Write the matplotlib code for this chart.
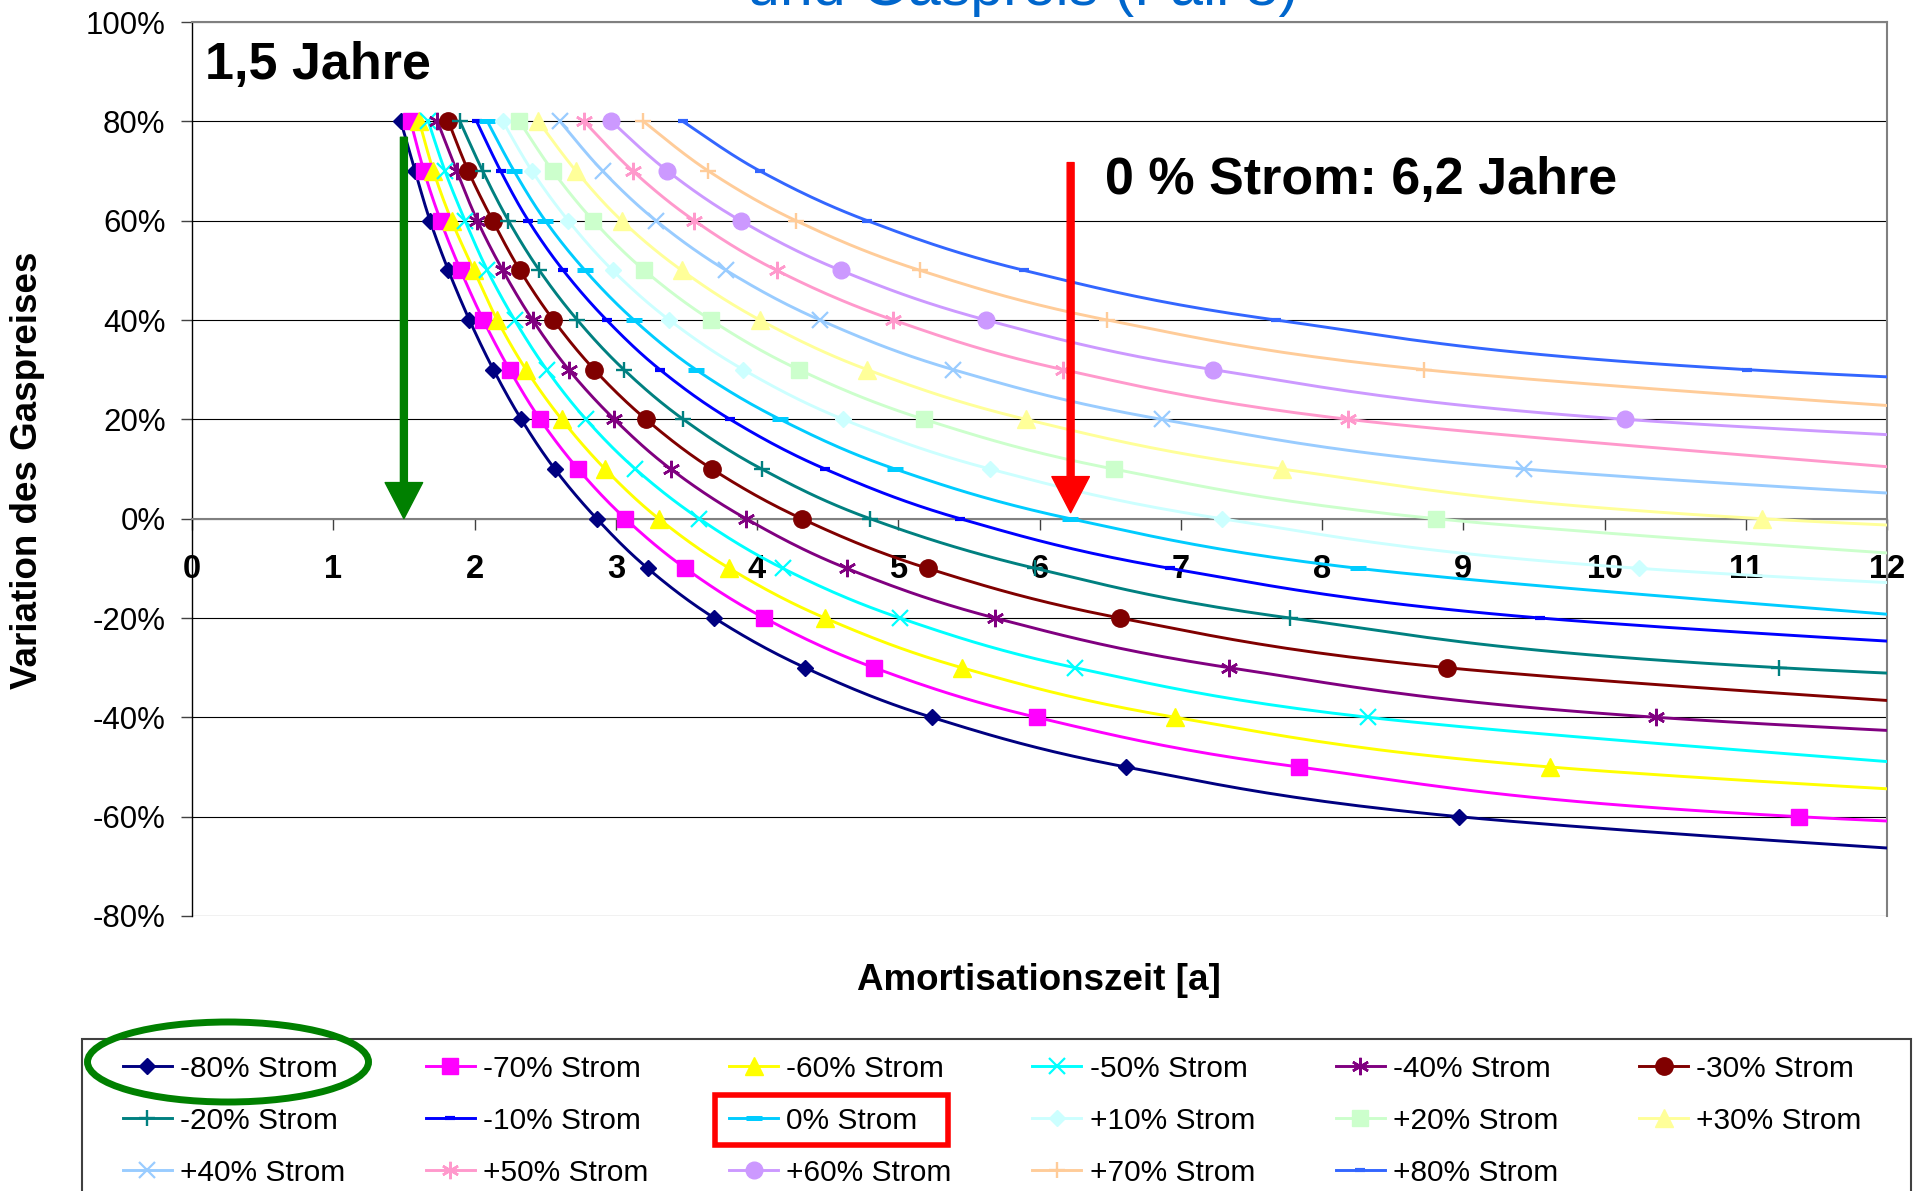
import numpy as np
import matplotlib
matplotlib.use("Agg")
import matplotlib.pyplot as plt
from matplotlib.lines import Line2D
from matplotlib.patches import Rectangle, Ellipse

plt.rcParams['font.family'] = ['Liberation Sans', 'DejaVu Sans']

# gas price variation (%) for the marker rows, top to bottom
gas_levels = [80, 70, 60, 50, 40, 30, 20, 10, 0, -10, -20, -30, -40, -50, -60, -70]

# electricity price variation of each series (%)
strom = [-80, -70, -60, -50, -40, -30, -20, -10, 0, 10, 20, 30, 40, 50, 60, 70, 80]

# amortisation time [a] read at each gas level; last value of each list is
# an estimate just beyond the right edge (x > 12)
t_m80 = [1.478, 1.579, 1.685, 1.815, 1.964, 2.134, 2.331, 2.568, 2.865, 3.226, 3.698, 4.340, 5.237, 6.612, 8.968, 14.0]
t_m70 = [1.548, 1.642, 1.760, 1.902, 2.062, 2.248, 2.464, 2.733, 3.068, 3.493, 4.052, 4.828, 5.980, 7.837, 11.373, 20.8]
t_m60 = [1.609, 1.709, 1.838, 1.996, 2.161, 2.365, 2.617, 2.924, 3.304, 3.804, 4.481, 5.449, 6.962, 9.614, 15.6]
t_m50 = [1.673, 1.791, 1.933, 2.091, 2.284, 2.511, 2.789, 3.139, 3.591, 4.182, 5.012, 6.251, 8.328, 12.48]
t_m40 = [1.737, 1.874, 2.020, 2.200, 2.411, 2.667, 2.990, 3.389, 3.922, 4.635, 5.685, 7.344, 10.367, 17.7]
t_m30 = [1.815, 1.956, 2.129, 2.322, 2.558, 2.848, 3.214, 3.681, 4.316, 5.208, 6.570, 8.883, 13.8]
t_m20 = [1.897, 2.058, 2.240, 2.459, 2.728, 3.058, 3.478, 4.033, 4.800, 5.970, 7.773, 11.235, 20.4]
t_m10 = [2.015, 2.185, 2.381, 2.628, 2.935, 3.313, 3.809, 4.482, 5.437, 6.924, 9.543, 15.3]
t_0 = [2.091, 2.280, 2.501, 2.782, 3.129, 3.568, 4.163, 4.977, 6.216, 8.257, 12.33]
t_p10 = [2.200, 2.407, 2.664, 2.978, 3.379, 3.903, 4.611, 5.650, 7.290, 10.245, 17.4]
t_p20 = [2.318, 2.554, 2.841, 3.202, 3.673, 4.297, 5.182, 6.525, 8.804, 13.6]
t_p30 = [2.452, 2.719, 3.042, 3.467, 4.021, 4.781, 5.904, 7.715, 11.113, 20.0]
t_p40 = [2.605, 2.907, 3.285, 3.781, 4.446, 5.390, 6.865, 9.430, 15.2]
t_p50 = [2.775, 3.120, 3.557, 4.139, 4.965, 6.169, 8.186, 12.2]
t_p60 = [2.969, 3.366, 3.884, 4.592, 5.621, 7.231, 10.147, 17.1]
t_p70 = [3.195, 3.656, 4.276, 5.154, 6.480, 8.722, 13.4]
t_p80 = [3.474, 4.021, 4.781, 5.890, 7.674, 11.011, 19.7]

times = [t_m80, t_m70, t_m60, t_m50, t_m40, t_m30, t_m20, t_m10, t_0,
         t_p10, t_p20, t_p30, t_p40, t_p50, t_p60, t_p70, t_p80]

colors = ['#000080', '#FF00FF', '#FFFF00', '#00FFFF', '#800080', '#800000',
          '#008080', '#0000FF', '#00CCFF', '#CCFFFF', '#CCFFCC', '#FFFF99',
          '#99CCFF', '#FF99CC', '#CC99FF', '#FFCC99', '#3366FF']
asterisk = (6, 2, 0)
markers = ['D', 's', '^', 'x', asterisk, 'o', '+', '_', '_',
           'D', 's', '^', 'x', asterisk, 'o', '+', '_']
msizes = [8.5, 11.5, 12.5, 11.5, 12.5, 12.5, 12, 6.5, 11.5, 8.5, 11.5, 12.5, 11.5, 12.5, 12, 12, 6.5]
mews = [1, 1, 1, 1.6, 1.8, 1, 1.7, 3, 3.6, 1, 1, 1, 1.6, 1.8, 1, 1.7, 3]


def label_for(s):
    if s > 0:
        return "+%d%% Strom" % s
    return "%d%% Strom" % s


def smooth(xs, ys, sx=141.25, sy=4.967, n=24):
    # Excel-like smoothed line (Bezier through the points, done in pixel space)
    pts = np.column_stack([np.asarray(xs) * sx, np.asarray(ys) * sy])
    out = [pts[0]]
    t = np.linspace(0, 1, n)[1:, None]
    for i in range(len(pts) - 1):
        p0 = pts[i - 1] if i > 0 else pts[i]
        p1 = pts[i]
        p2 = pts[i + 1]
        p3 = pts[i + 2] if i + 2 < len(pts) else pts[i + 1]
        c1 = p1 + (p2 - p0) / 6.0
        c2 = p2 - (p3 - p1) / 6.0
        seg = (1 - t) ** 3 * p1 + 3 * (1 - t) ** 2 * t * c1 + 3 * (1 - t) * t ** 2 * c2 + t ** 3 * p2
        out.extend(seg)
    out = np.array(out)
    return out[:, 0] / sx, out[:, 1] / sy


fig = plt.figure(figsize=(19.21, 11.91), dpi=100)
ax = fig.add_axes([0.09995, 0.2309, 0.8824, 0.7506])

handles = []
for s, tx, c, m, ms, mew in zip(strom, times, colors, markers, msizes, mews):
    gy = gas_levels[:len(tx)]
    lx, ly = smooth(tx, gy)
    ax.plot(lx, ly, color=c, lw=2.1, zorder=3)
    ax.plot(tx, gy, ls='none', marker=m, ms=ms, mew=mew, color=c, mfc=c, mec=c, zorder=4)
    handles.append(Line2D([], [], color=c, lw=2.1, marker=m, ms=ms, mew=mew, mfc=c, mec=c))

ax.set_xlim(0, 12)
ax.set_ylim(-80, 100)
ax.set_xticks(range(0, 13))
ax.set_yticks(range(-80, 101, 20))
ax.set_yticklabels(["%d%%" % v for v in range(-80, 101, 20)])

ax.yaxis.grid(True, color='black', lw=0.8)
ax.set_axisbelow(True)
ax.spines['bottom'].set_position(('data', 0))
ax.spines['bottom'].set_color('#808080')
ax.spines['bottom'].set_linewidth(1.5)
for sp in ['top', 'right']:
    ax.spines[sp].set_color('#808080')
    ax.spines[sp].set_linewidth(1.5)
ax.spines['left'].set_color('black')
ax.spines['left'].set_linewidth(1)

ax.tick_params(axis='x', direction='out', length=7.7, width=1, color='#404040',
               pad=18, labelsize=23.5)
ax.tick_params(axis='y', direction='out', length=8, width=1, color='#404040',
               pad=11, labelsize=22.5)
for lbl in ax.get_xticklabels():
    lbl.set_fontweight('bold')

# axis titles
fig.text(0.5409, 1 - 990 / 1191, "Amortisationszeit [a]", fontsize=26.5,
         fontweight='bold', ha='center', va='baseline')
fig.text(0.0143, 0.6055, "Variation des Gaspreises", fontsize=26.5,
         fontweight='bold', rotation=90, ha='center', va='center')

# chart title, cut off at the top
fig.text(0.5325, 1 - 5 / 1191, "und Gaspreis (Fall 3)", fontsize=42.5,
         color='#0066CC', ha='center', va='baseline')

# annotations
ax.text(0.092, 88.6, "1,5 Jahre", fontsize=37.5, fontweight='bold', va='baseline')
ax.text(6.464, 65.4, "0 % Strom: 6,2 Jahre", fontsize=37.5, fontweight='bold',
        va='baseline')
arrow = 'simple,head_length=2.6,head_width=2.7,tail_width=0.5'
ax.annotate('', xy=(1.5, 0), xytext=(1.5, 76.8),
            arrowprops=dict(arrowstyle=arrow, color='#008000', mutation_scale=10,
                            shrinkA=0, shrinkB=0), zorder=6)
ax.annotate('', xy=(6.22, 1.2), xytext=(6.22, 71.7),
            arrowprops=dict(arrowstyle=arrow, color='#FF0000', mutation_scale=10,
                            shrinkA=0, shrinkB=0), zorder=6)

# legend, filled row by row like the original
labels = [label_for(s) for s in strom]
ncol = 6
order = []
for c in range(ncol):
    for r in range(3):
        i = r * ncol + c
        if i < len(labels):
            order.append(i)
fig.legend([handles[i] for i in order], [labels[i] for i in order], ncol=ncol,
           loc='upper left', bbox_to_anchor=(0.0638, 0.1143), frameon=False,
           fontsize=21.5, handlelength=1.64, handletextpad=0.28, columnspacing=2.7,
           labelspacing=0.8, borderpad=0, borderaxespad=0)
fig.patches.append(Rectangle((82 / 1921, -0.05), (1911 - 82) / 1921, 0.05 + 1 - 1039 / 1191,
                             transform=fig.transFigure, fill=False, ec='#404040', lw=1.5))
fig.patches.append(Ellipse((228 / 1921, 1 - 1062 / 1191), 281 / 1921, 80 / 1191,
                           transform=fig.transFigure, fill=False, ec='#008000', lw=5))
fig.patches.append(Rectangle((715 / 1921, 1 - 1145 / 1191), (948 - 715) / 1921, 50 / 1191,
                             transform=fig.transFigure, fill=False, ec='#FF0000', lw=4))

fig.savefig("out.png", dpi=100)
